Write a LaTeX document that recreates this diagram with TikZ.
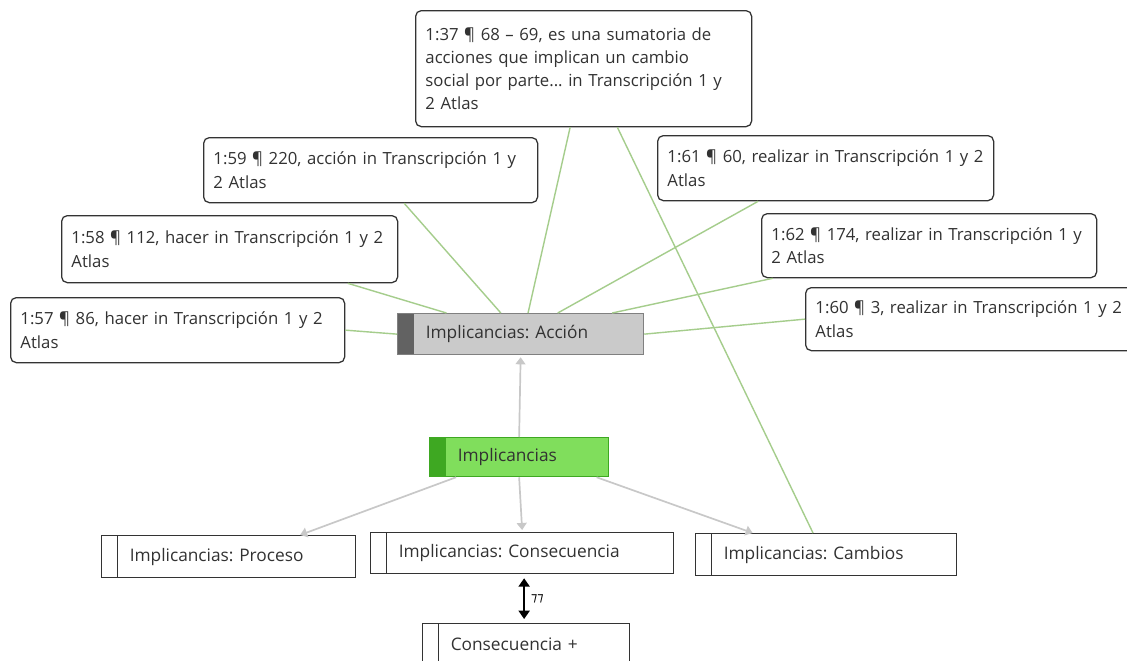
\documentclass[tikz,border=0pt]{standalone}
\usepackage{fontspec}
\setmainfont{Open Sans}
\newfontfamily\symfont{DejaVu Sans}
\usetikzlibrary{arrows.meta,calc}
\frenchspacing

\newcommand{\pxu}{0.025cm}
\newcommand{\qfont}{\fontsize{11.9}{16.5}\selectfont}
\newcommand{\cfont}{\fontsize{12.3}{15}\selectfont}

\definecolor{linkgreen}{RGB}{165,205,140}
\definecolor{arrowgray}{RGB}{200,200,200}
\definecolor{accfill}{RGB}{202,202,202}
\definecolor{accstrip}{RGB}{98,98,98}
\definecolor{impfill}{RGB}{128,222,92}
\definecolor{impstrip}{RGB}{62,168,34}
\definecolor{txtgray}{RGB}{50,50,50}

\tikzset{
  qbox/.style 2 args={draw=black!80, line width=0.9pt, rounded corners=4pt, fill=white,
    anchor=north west, inner xsep=7pt, inner ysep=0pt, align=left,
    text width=#1*\pxu-14pt, minimum height=#2*\pxu, font=\qfont, text=txtgray,
    execute at begin node={\rightskip=0pt plus 1fil minus 15pt}},
  codebox/.style 2 args={draw=black!80, line width=0.9pt, fill=white,
    anchor=north west, inner xsep=6pt, inner ysep=0pt, align=left,
    minimum width=#1*\pxu, minimum height=#2*\pxu, text width=#1*\pxu-12pt,
    font=\cfont, text=txtgray, execute at begin node={\hspace*{14pt}},
    path picture={\draw[line width=0.9pt, black!80]
      ([xshift=16*\pxu]path picture bounding box.north west) --
      ([xshift=16*\pxu]path picture bounding box.south west);}},
  fillstrip/.style={path picture={\fill[#1]
      (path picture bounding box.south west) rectangle
      ([xshift=16*\pxu]path picture bounding box.north west);}},
  link/.style={linkgreen, line width=1pt},
  isa/.style={arrowgray, line width=1.2pt, -{Triangle[length=5pt,width=7pt]}},
  relarrow/.style={black, line width=1.2pt,
    {Triangle[length=6pt,width=8pt]}-{Triangle[length=6pt,width=8pt]}}
}

\begin{document}
\begin{tikzpicture}[x=\pxu, y=-\pxu]
  \useasboundingbox[fill=white] (0,0) rectangle (1127,660);

  % quotations
  \node[qbox={336}{116}] (q37) at (415,10) {1:37 ¶ 68 – 69, es una sumatoria de\\acciones que implican un cambio\\social por parte... in Transcripción 1 y\\2 Atlas};
  \node[qbox={334}{65}] (q59) at (203,137) {1:59 ¶ 220, acción in Transcripción 1 y\\2 Atlas};
  \node[qbox={336}{67}] (q58) at (61,215) {1:58 ¶ 112, hacer in Transcripción 1 y 2\\Atlas};
  \node[qbox={334}{65}] (q57) at (10,297) {1:57 ¶ 86, hacer in Transcripción 1 y 2\\Atlas};
  \node[qbox={336}{65}] (q61) at (657,135) {1:61 ¶ 60, realizar in Transcripción 1 y 2\\Atlas};
  \node[qbox={335}{64}] (q62) at (761,213) {1:62 ¶ 174, realizar in Transcripción 1 y\\2 Atlas};
  \node[qbox={335}{63}] (q60) at (805,287) {1:60 ¶ 3, realizar in Transcripción 1 y 2\\Atlas};

  % codes
  \node[codebox={246}{41}, fill=accfill, draw=black!50, fillstrip=accstrip] (accion) at (397,313) {Implicancias: Acción};
  \node[codebox={179}{39}, fill=impfill, draw=impstrip, fillstrip=impstrip] (impl) at (429,437) {Implicancias};
  \node[codebox={254}{42}] (proceso) at (101,535) {Implicancias: Proceso};
  \node[codebox={303}{41}] (cons) at (370,532) {Implicancias: Consecuencia};
  \node[codebox={261}{42}] (cambios) at (695,533) {Implicancias: Cambios};
  \node[codebox={207}{42}] (consp) at (422,623) {Consecuencia +};

  % quotation links
  \draw[link] (q57.east) -- (accion.west);
  \draw[link] ($(q58.south west)!0.85!(q58.south east)$) -- ($(accion.north west)!0.2!(accion.north east)$);
  \draw[link] ($(q59.south west)!0.6!(q59.south east)$) -- ($(accion.north west)!0.42!(accion.north east)$);
  \draw[link] ($(q37.south west)!0.46!(q37.south east)$) -- ($(accion.north west)!0.53!(accion.north east)$);
  \draw[link] ($(q61.south west)!0.3!(q61.south east)$) -- ($(accion.north west)!0.65!(accion.north east)$);
  \draw[link] ($(q62.south west)!0.035!(q62.south east)$) -- ($(accion.north west)!0.87!(accion.north east)$);
  \draw[link] (q60.west) -- (accion.east);
  \draw[link] ($(q37.south west)!0.6!(q37.south east)$) -- ($(cambios.north west)!0.45!(cambios.north east)$);

  % code links
  \draw[isa] (impl.north) -- ([yshift=-2*\pxu]accion.south);
  \draw[isa] ($(impl.south west)!0.15!(impl.south east)$) -- ($(proceso.north west)!0.78!(proceso.north east)$);
  \draw[isa] (impl.south) -- ([yshift=2*\pxu]cons.north);
  \draw[isa] ($(impl.south west)!0.93!(impl.south east)$) -- ($(cambios.north west)!0.22!(cambios.north east)$);
  \draw[relarrow, shorten <=4*\pxu, shorten >=4*\pxu] ([xshift=2*\pxu]cons.south) -- node[right, font=\symfont\small, xshift=1pt] {⁊⁊} ([xshift=-2*\pxu]consp.north);
\end{tikzpicture}
\end{document}
